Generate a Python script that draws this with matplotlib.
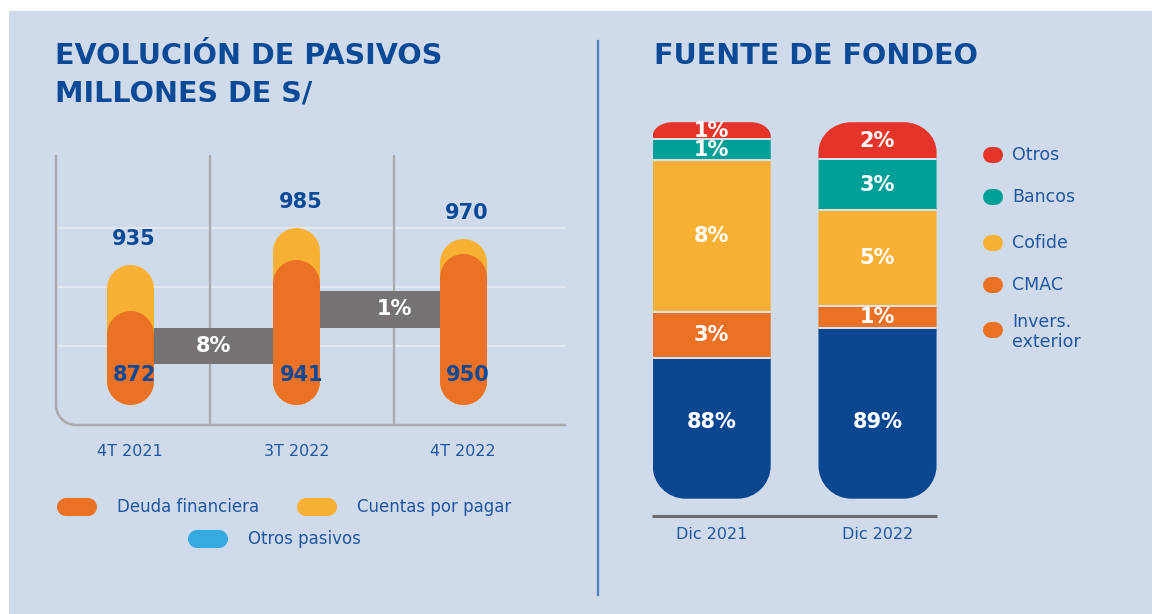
import matplotlib
matplotlib.use('Agg')
import matplotlib.pyplot as plt
from matplotlib.path import Path
from matplotlib.patches import PathPatch, Rectangle
from matplotlib.lines import Line2D

plt.rcParams['font.family'] = ['DejaVu Sans']

# ---------------- data ----------------
periods = ['4T 2021', '3T 2022', '4T 2022']
deuda_financiera = [872, 941, 950]
total_pasivos = [935, 985, 970]
variaciones = ['8%', '1%']

fondeo_periods = ['Dic 2021', 'Dic 2022']
fondeo_series = ['Depósitos', 'CMAC', 'Cofide', 'Bancos', 'Otros']      # bottom -> top
fondeo_labels_2021 = [88, 3, 8, 1, 1]
fondeo_labels_2022 = [89, 1, 5, 3, 2]
fondeo_length_2021 = [37.4, 12.1, 40.4, 5.6, 4.5]   # drawn length of each segment (% of bar)
fondeo_length_2022 = [45.4, 5.7, 25.5, 13.5, 9.9]
legend_right = ['Otros', 'Bancos', 'Cofide', 'CMAC', 'Invers.\nexterior']
legend_left = ['Deuda financiera', 'Cuentas por pagar', 'Otros pasivos']

# ---------------- style ----------------
W, H = 1152, 614
BG = '#cfdbea'
NAVY = '#0c4a97'
TXT = '#2356a0'
ORANGE = '#eb7125'
YELLOW = '#f8b134'
SKY = '#37a9e1'
GRAYBAND = '#777374'
AXGRAY = '#a8aaad'
RED = '#e5352b'
TEAL = '#00a099'
BLUE = '#0b4791'
seg_colors = [BLUE, ORANGE, YELLOW, TEAL, RED]
legend_right_colors = [RED, TEAL, YELLOW, ORANGE, ORANGE]


def fx(x):
    return x / W


def fy(y):
    return 1 - y / H


fig = plt.figure(figsize=(W / 100, H / 100), dpi=100)
fig.patch.set_facecolor('white')
fig.patches.append(Rectangle((fx(9), 0), 1 - fx(9), fy(11), transform=fig.transFigure,
                             facecolor=BG, edgecolor='none', zorder=-10))

# titles
TFS = 20.6
fig.text(fx(55), fy(56), 'EVOLUCIÓN DE PASIVOS', fontsize=TFS, fontweight='bold', color=NAVY,
         ha='left', va='center')
fig.text(fx(55), fy(94), 'MILLONES DE S/', fontsize=TFS, fontweight='bold', color=NAVY,
         ha='left', va='center')
fig.text(fx(654), fy(56), 'FUENTE DE FONDEO', fontsize=TFS, fontweight='bold', color=NAVY,
         ha='left', va='center')

# divider
fig.add_artist(Line2D([fx(598), fx(598)], [fy(41), fy(595)], transform=fig.transFigure,
                      color='#4f7fc1', lw=1.6))

# ---------------- left chart ----------------
ax = fig.add_axes([fx(56), fy(425), 510 / W, 270 / H])
ax.set_facecolor('none')
ax.set_xlim(-0.444, 2.619)
ax.set_ylim(748.8, 1114.9)
ax.axis('off')

for g in [856, 936, 1016]:
    ax.axhline(g, color='#e2e8f0', lw=1.6, zorder=1)
for vx in [0.48, 1.586]:
    ax.axvline(vx, color=AXGRAY, lw=1.6, zorder=1)

# left line + rounded corner + baseline
k = 0.5523
rx, ry = 20 / 510, 20 / 270
verts = [(0, 1), (0, ry), (0, ry * (1 - k)), (rx * (1 - k), 0), (rx, 0), (1, 0)]
codes = [Path.MOVETO, Path.LINETO, Path.CURVE4, Path.CURVE4, Path.CURVE4, Path.LINETO]
ax.add_patch(PathPatch(Path(verts, codes), transform=ax.transAxes, fill=False,
                       edgecolor=AXGRAY, lw=1.8, clip_on=False, zorder=1))

xs = list(range(len(periods)))
base = 808
pill_lw = 47 * 0.72
band_centers = [856, 906]
band_h = 50
band_label_dx = [0.0, 0.09]
for i, lab in enumerate(variaciones):
    ax.bar(xs[i] + 0.5, band_h, bottom=band_centers[i] - band_h / 2, width=1.0,
           color=GRAYBAND, zorder=2)
    ax.text(xs[i] + 0.5 + band_label_dx[i], band_centers[i], lab, ha='center', va='center',
            color='white', fontsize=15, fontweight='bold', zorder=5)

for i in xs:
    ax.plot([i, i], [base, total_pasivos[i]], color=YELLOW, lw=pill_lw,
            solid_capstyle='round', zorder=3)
    ax.plot([i, i], [base, deuda_financiera[i]], color=ORANGE, lw=pill_lw,
            solid_capstyle='round', zorder=4)
    ax.annotate(str(total_pasivos[i]), (i, total_pasivos[i]), xytext=(3, 35),
                textcoords='offset points', ha='center', va='center', color=NAVY,
                fontsize=15, fontweight='bold', zorder=5)
    ax.text(i + 0.03, 816.6, str(deuda_financiera[i]), ha='center', va='center', color=NAVY,
            fontsize=15, fontweight='bold', zorder=5)
    ax.text(i, -0.1, periods[i], transform=ax.get_xaxis_transform(), ha='center', va='center',
            color=TXT, fontsize=11.5)

# left legend
left_items = [(66, 88, 507, ORANGE, 117), (306, 328, 507, YELLOW, 357), (197, 219, 539, SKY, 248)]
for (x0, x1, yy, c, tx), lab in zip(left_items, legend_left):
    fig.add_artist(Line2D([fx(x0), fx(x1)], [fy(yy), fy(yy)], transform=fig.transFigure,
                          color=c, lw=13, solid_capstyle='round'))
    fig.text(fx(tx), fy(yy), lab, color=TXT, fontsize=12, ha='left', va='center')

# ---------------- right chart ----------------
ax2 = fig.add_axes([fx(640), fy(516), 310 / W, 416 / H])
ax2.set_facecolor('none')
ax2.set_xlim(-0.432, 1.437)
ax2.set_ylim(0, 110.5)
ax2.axis('off')

PX_X = 165.8   # px per x unit
PX_Y = 3.765   # px per y unit
bar_w = 0.712
bar_bottom = 4.6
first_label_y = 25


def rounded_path(x0, x1, y0, y1, rtx, rty, rbx, rby):
    verts = [
        (x0 + rbx, y0), (x1 - rbx, y0),
        (x1 - rbx + k * rbx, y0), (x1, y0 + rby - k * rby), (x1, y0 + rby),
        (x1, y1 - rty),
        (x1, y1 - rty + k * rty), (x1 - rtx + k * rtx, y1), (x1 - rtx, y1),
        (x0 + rtx, y1),
        (x0 + rtx - k * rtx, y1), (x0, y1 - rty + k * rty), (x0, y1 - rty),
        (x0, y0 + rby),
        (x0, y0 + rby - k * rby), (x0 + rbx - k * rbx, y0), (x0 + rbx, y0),
        (x0 + rbx, y0),
    ]
    codes = ([Path.MOVETO, Path.LINETO] + [Path.CURVE4] * 3 + [Path.LINETO] + [Path.CURVE4] * 3
             + [Path.LINETO] + [Path.CURVE4] * 3 + [Path.LINETO] + [Path.CURVE4] * 3
             + [Path.CLOSEPOLY])
    return Path(verts, codes)


top_radii = [(20, 14), (33, 30)]
for i, (lengths, labels) in enumerate([(fondeo_length_2021, fondeo_labels_2021),
                                        (fondeo_length_2022, fondeo_labels_2022)]):
    total = bar_bottom + sum(lengths)
    rtx, rty = top_radii[i]
    clip = PathPatch(rounded_path(i - bar_w / 2, i + bar_w / 2, bar_bottom, total,
                                  rtx / PX_X, rty / PX_Y, 33 / PX_X, 33 / PX_Y),
                     transform=ax2.transData, facecolor='none', edgecolor='none')
    ax2.add_patch(clip)
    cum = bar_bottom
    for j, (h, lab) in enumerate(zip(lengths, labels)):
        bars = ax2.bar(i, h, bottom=cum, width=bar_w, color=seg_colors[j], zorder=2)
        for b in bars:
            b.set_clip_path(clip)
        if j > 0:
            ln = ax2.plot([i - bar_w / 2, i + bar_w / 2], [cum, cum], color='#dde5f0', lw=1.4,
                          zorder=3)[0]
            ln.set_clip_path(clip)
        ly = first_label_y if j == 0 else cum + h / 2
        ax2.text(i, ly, f'{lab}%', ha='center', va='center', color='white',
                 fontsize=15, fontweight='bold', zorder=4)
        cum += h
    ax2.text(i, -4.8, fondeo_periods[i], ha='center', va='center', color=TXT, fontsize=11.5)

ax2.plot([-0.36, 1.359], [0, 0], color='#6d6d6d', lw=2.2, zorder=3, solid_capstyle='butt',
         clip_on=False)

# right legend
leg_y = [155, 197, 243, 285, 330]
for yy, c, lab in zip(leg_y, legend_right_colors, legend_right):
    fig.add_artist(Line2D([fx(991), fx(995)], [fy(yy), fy(yy)], transform=fig.transFigure,
                          color=c, lw=11.5, solid_capstyle='round'))
    fig.text(fx(1012), fy(yy + (2 if '\n' in lab else 0)), lab, color=TXT, fontsize=12.5,
             ha='left', va='center', linespacing=1.18)

fig.savefig('out.png', dpi=100, facecolor='white')
